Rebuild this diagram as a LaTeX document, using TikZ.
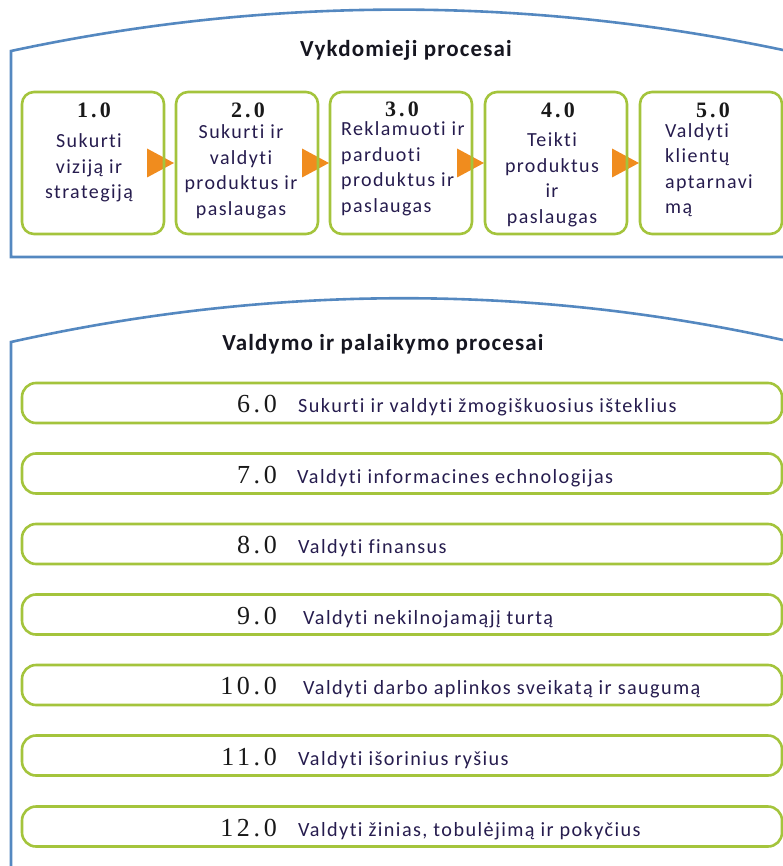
\documentclass[tikz,border=0pt]{standalone}
\usepackage{fontspec}
\setmainfont{Carlito}[Ligatures=NoCommon]
\newfontfamily\lblfont{Carlito}[LetterSpace=7,Ligatures=NoCommon]
\newfontfamily\headfont{Carlito}[LetterSpace=5,Ligatures=NoCommon]
\newfontfamily\numfont{Liberation Serif}[LetterSpace=14]
\usetikzlibrary{calc}
\definecolor{panelblue}{RGB}{84,136,192}
\definecolor{boxgreen}{RGB}{164,196,60}
\definecolor{flowora}{RGB}{240,140,30}
\definecolor{labeltxt}{RGB}{38,28,78}
\definecolor{titletxt}{RGB}{22,22,32}
\definecolor{numtxt}{RGB}{25,25,25}
\begin{document}
\begin{tikzpicture}[x=1pt,y=-1pt,
  panel/.style={draw=panelblue, line width=2.6pt},
  procbox/.style={draw=boxgreen, line width=2.6pt, rounded corners=12pt,
    minimum width=142pt, minimum height=142pt, inner sep=0pt},
  rowbar/.style={draw=boxgreen, line width=2.6pt, rounded corners=14pt,
    minimum width=760pt, minimum height=40pt, inner sep=0pt},
  paneltitle/.style={font=\headfont\bfseries\fontsize{23}{27}\selectfont, text=titletxt, inner sep=0pt, anchor=base},
  topnum/.style={font=\numfont\bfseries\fontsize{22}{24}\selectfont, text=numtxt, inner sep=0pt, anchor=base},
  toplabel/.style={font=\lblfont\fontsize{20}{25.5}\selectfont, text=labeltxt, inner sep=0pt},
  rownum/.style={font=\numfont\fontsize{26}{28}\selectfont, text=numtxt, inner sep=0pt, anchor=base east},
  rowlabel/.style={font=\lblfont\fontsize{20.2}{22}\selectfont, text=labeltxt, inner sep=0pt, anchor=base west},
  flowtip/.style={fill=flowora}
]
\useasboundingbox (0,0) rectangle (783,866);

% ---- core processes panel ----
\draw[panel] (790,257) -- (11,257) -- (11,51)
  .. controls (268,-4) and (526,-4) .. (783,50);
\node[paneltitle] (t1) at (406,57) {Vykdomieji procesai};

% flow markers between the process boxes (drawn first, under the borders)
\coordinate (m1) at (175,163);
\coordinate (m2) at (330,163);
\coordinate (m3) at (485,163);
\coordinate (m4) at (640,163);
\foreach \m in {m1,m2,m3,m4}
  \fill[flowtip] ($(\m)+(-28,-14.5)$) -- ($(\m)+(-1,0)$) -- ($(\m)+(-28,14.5)$) -- cycle;

\node[procbox] (b1) at (93,163) {};
\node[procbox] (b2) at (247,163) {};
\node[procbox] (b3) at (401,163) {};
\node[procbox] (b4) at (556,163) {};
\node[procbox] (b5) at (711,163) {};

\node[topnum] (n1) at (94,118) {1.0};
\node[topnum] (n2) at (248,118) {2.0};
\node[topnum] (n3) at (402,117) {3.0};
\node[topnum] (n4) at (558,118) {4.0};
\node[topnum] (n5) at (713,118) {5.0};

\node[toplabel, align=center] (l1) at (89,168) {Sukurti\\viziją ir\\strategiją};
\node[toplabel, align=center] (l2) at (241,172) {Sukurti ir\\valdyti\\produktus ir\\paslaugas};
\node[toplabel, align=left, anchor=west] (l3) at (341,169) {Reklamuoti ir\\parduoti\\produktus ir\\paslaugas};
\node[toplabel, align=center] (l4) at (552,180) {Teikti\\produktus\\ir\\paslaugas};
\node[toplabel, align=left, anchor=west] (l5) at (665,170) {Valdyti\\klientų\\aptarnavi\\mą};

% ---- management and support panel ----
\draw[panel] (11,870) -- (11,342)
  .. controls (268,285) and (526,283) .. (783,340);
\node[paneltitle] (t2) at (383,350) {Valdymo ir palaikymo procesai};

\foreach \i/\y/\num/\lx/\txt in {
  6/403/6.0/298/{Sukurti ir valdyti žmogiškuosius išteklius},
  7/473.5/7.0/297/{Valdyti informacines echnologijas},
  8/544/8.0/298/{Valdyti finansus},
  9/614.5/9.0/303/{Valdyti nekilnojamąjį turtą},
  10/685/10.0/303/{Valdyti darbo aplinkos sveikatą ir saugumą},
  11/755.5/11.0/298/{Valdyti išorinius ryšius},
  12/826.5/12.0/298/{Valdyti žinias, tobulėjimą ir pokyčius}} {
  \node[rowbar] (r\i) at (402,\y) {};
  \node[rownum] (rn\i) at (277,\y+9.5) {\num};
  \node[rowlabel] (rl\i) at (\lx,\y+9.5) {\txt};
}
\end{tikzpicture}
\end{document}
